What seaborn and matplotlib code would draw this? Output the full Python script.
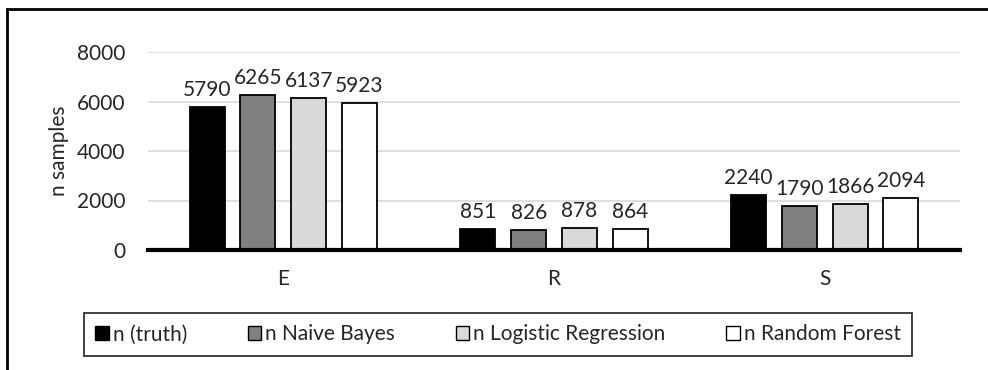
import matplotlib
matplotlib.use("Agg")
import matplotlib.pyplot as plt
import seaborn as sns
import pandas as pd
from matplotlib.patches import Rectangle, Patch

categories = ["E", "R", "S"]
series = ["n (truth)", "n Naive Bayes", "n Logistic Regression", "n Random Forest"]
truth = [5790, 851, 2240]
naive_bayes = [6265, 826, 1790]
logistic = [6137, 878, 1866]
random_forest = [5923, 864, 2094]
yticks = [0, 2000, 4000, 6000, 8000]
colors = ["#000000", "#808080", "#d9d9d9", "#ffffff"]

rows = []
for name, vals in zip(series, [truth, naive_bayes, logistic, random_forest]):
    for c, v in zip(categories, vals):
        rows.append({"cat": c, "series": name, "value": v})
df = pd.DataFrame(rows)

sns.set_theme(style="white")
plt.rcParams["font.family"] = ["Lato", "DejaVu Sans"]
FS = 15

W, H = 988, 370
fig = plt.figure(figsize=(W / 100, H / 100), dpi=100)
ax = fig.add_axes([148 / W, 1 - 250 / H, (960 - 148) / W, (250 - 52) / H])

sns.barplot(data=df, x="cat", y="value", hue="series", palette=colors,
            width=0.75, gap=0.31, edgecolor="black", linewidth=1.3,
            ax=ax, legend=False, zorder=3)

ax.set_ylim(0, 8000)
ax.set_xlim(-0.5, 2.5)
ax.set_yticks(yticks)
ax.set_yticklabels([str(t) for t in yticks], fontsize=FS)
ax.tick_params(axis="x", labelsize=FS, pad=14, length=0)
ax.tick_params(axis="y", pad=16, length=0)
ax.grid(axis="y", color="#d9d9d9", linewidth=1.2, zorder=0)
ax.set_axisbelow(True)
for s in ["top", "right", "left"]:
    ax.spines[s].set_visible(False)
ax.spines["bottom"].set_linewidth(3)
ax.spines["bottom"].set_color("black")
ax.spines["bottom"].set_zorder(5)
ax.set_xlabel("")
ax.set_ylabel("n samples", fontsize=FS, labelpad=6)

for cont in ax.containers:
    ax.bar_label(cont, fmt="%d", padding=5, fontsize=FS)

handles = [Patch(facecolor=c, edgecolor="black", linewidth=1.0) for c in colors]
leg = fig.legend(handles, series, loc="center", ncol=4,
                 bbox_to_anchor=((83 + 913) / 2 / W, 1 - (312 + 357) / 2 / H),
                 frameon=True, fontsize=FS, handlelength=0.65, handleheight=0.65,
                 handletextpad=0.2, columnspacing=2.9, borderpad=0.55,
                 borderaxespad=0, fancybox=False)
leg.get_frame().set_edgecolor("black")
leg.get_frame().set_linewidth(1.3)

fig.patches.append(Rectangle((7 / W, -0.1), 1.2, 1 - 9 / H + 0.1, transform=fig.transFigure,
                             fill=False, edgecolor="black", linewidth=2))

fig.savefig("out.png", dpi=100)
